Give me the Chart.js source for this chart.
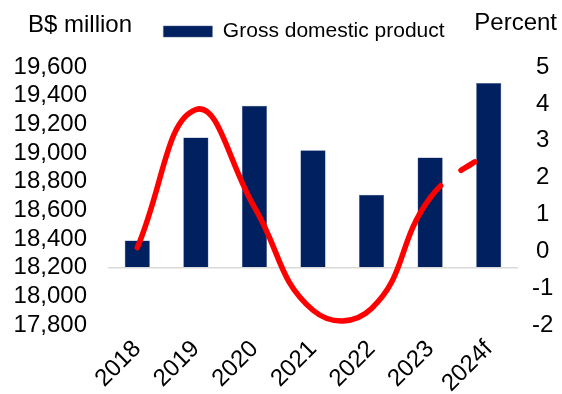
<!DOCTYPE html>
<html>
<head>
<meta charset="utf-8">
<script src="https://cdn.jsdelivr.net/npm/chart.js@4.4.1/dist/chart.umd.min.js"></script>
<style>
  html, body { margin: 0; padding: 0; background: #fff; }
  #wrap { width: 562px; height: 394px; }
</style>
</head>
<body>
<div id="wrap"><canvas id="chart-gdp"></canvas></div>
<script>
// GDP level (bars, left axis) and growth rate (red line, right axis)
const years = ['2018', '2019', '2020', '2021', '2022', '2023', '2024f'];
const gdpValues = [18390, 19110, 19330, 19020, 18710, 18970, 19490];
const growthValues = [0.1, 3.85, 1.2, -1.6, -1.55, 1.45, 2.7];

// axis ranges
const gdpAxis = { min: 17800, max: 19600, step: 200, base: 18200 };
const growthAxis = { min: -2, max: 5, step: 1 };

const FONT = '"Liberation Sans", Arial, sans-serif';
const NAVY = '#002060';
const RED = '#FF0000';

// Unit labels above each value axis
const unitTitles = {
  id: 'unitTitles',
  afterDraw: (chart) => {
    const ctx = chart.ctx;
    ctx.save();
    ctx.font = '24px ' + FONT;
    ctx.fillStyle = '#000';
    ctx.textBaseline = 'middle';
    ctx.textAlign = 'left';
    ctx.fillText('B$ million', 28, 25);
    ctx.textAlign = 'right';
    ctx.fillText('Percent', 557, 23);
    ctx.restore();
  }
};

new Chart(document.getElementById('chart-gdp'), {
  data: {
    labels: years,
    datasets: [
      {
        type: 'line',
        label: 'Real GDP growth',
        data: growthValues,
        yAxisID: 'y1',
        borderColor: RED,
        borderWidth: 5.5,
        borderCapStyle: 'round',
        borderJoinStyle: 'round',
        tension: 0.45,
        pointRadius: 0,
        clip: false,
        // forecast leg is dashed
        segment: {
          borderDash: (ctx) => ctx.p1DataIndex === years.length - 1 ? [16, 26] : undefined
        }
      },
      {
        type: 'bar',
        label: 'Gross domestic product',
        data: gdpValues,
        yAxisID: 'y',
        base: gdpAxis.base,
        backgroundColor: NAVY,
        borderColor: '#4a5f8a',
        borderWidth: 0.5,
        barPercentage: 0.43,
        categoryPercentage: 1
      }
    ]
  },
  options: {
    responsive: true,
    maintainAspectRatio: false,
    animation: false,
    // negative right padding recentres the legend over the plot like the original
    layout: { padding: { left: 0, right: -46, top: 15, bottom: 0 } },
    plugins: {
      legend: {
        position: 'top',
        labels: {
          filter: (item) => item.datasetIndex === 1,
          color: '#000',
          font: { size: 21, family: FONT },
          boxWidth: 49,
          boxHeight: 11,
          padding: 6
        }
      },
      // empty spacer between legend and plot
      subtitle: {
        display: true,
        text: '',
        weight: 500,
        font: { size: 1 },
        padding: { top: 14, bottom: 0 }
      },
      tooltip: { enabled: false }
    },
    scales: {
      x: {
        grid: { display: false },
        border: { display: false },
        ticks: {
          color: '#000',
          font: { size: 24, family: FONT },
          minRotation: 45,
          maxRotation: 45,
          padding: 2
        },
        afterFit: (scale) => { scale.height = 69; }
      },
      y: {
        position: 'left',
        min: gdpAxis.min,
        max: gdpAxis.max,
        border: { display: false },
        grid: {
          drawTicks: false,
          lineWidth: 1.5,
          color: (ctx) => ctx.tick && ctx.tick.value === gdpAxis.base ? '#d9d9d9' : 'transparent'
        },
        ticks: {
          stepSize: gdpAxis.step,
          autoSkip: false,
          color: '#000',
          font: { size: 24, family: FONT },
          padding: 21
        },
        afterFit: (scale) => { scale.width = 108; }
      },
      y1: {
        position: 'right',
        min: growthAxis.min,
        max: growthAxis.max,
        border: { display: false },
        grid: { display: false, drawTicks: false },
        ticks: {
          stepSize: growthAxis.step,
          autoSkip: false,
          color: '#000',
          font: { size: 24, family: FONT },
          crossAlign: 'center',
          padding: 14
        },
        afterFit: (scale) => { scale.width = 90; }
      }
    }
  },
  plugins: [unitTitles]
});
</script>
</body>
</html>
